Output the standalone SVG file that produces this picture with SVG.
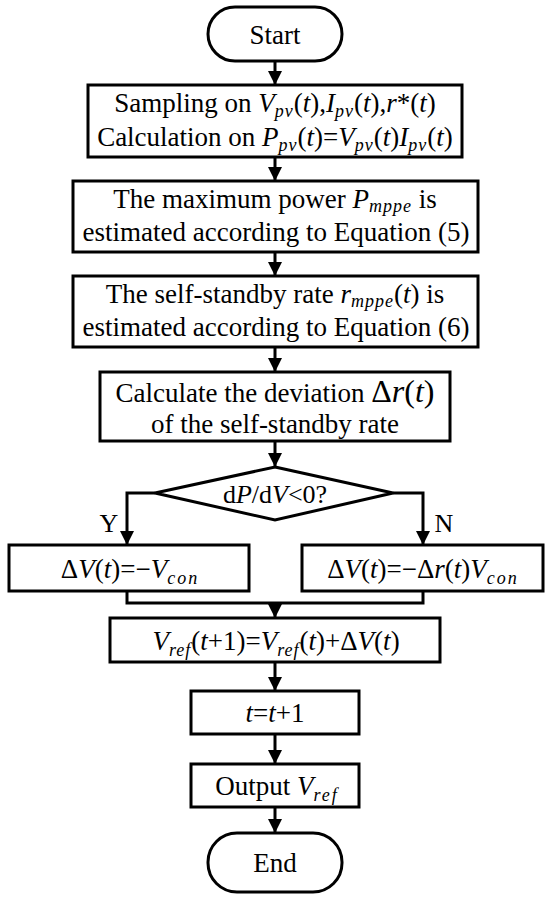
<svg xmlns="http://www.w3.org/2000/svg" width="550" height="899" viewBox="0 0 550 899" font-family="'Liberation Serif', 'Times New Roman', serif">
<style>
.n{fill:#fff;stroke:#000;stroke-width:3}
.c{fill:none;stroke:#000;stroke-width:3}
.tx{font-family:'Liberation Serif','Times New Roman',serif;font-size:27px;fill:#000;text-anchor:middle}
.i{font-style:italic}
.s{font-style:italic;font-size:18px;letter-spacing:1px}
.big{font-size:32px}
</style>
<defs>
<marker id="ah" markerUnits="userSpaceOnUse" markerWidth="16" markerHeight="14" refX="14" refY="7" orient="auto">
<path d="M0,0 L14,7 L0,14 Z" fill="#000"/>
</marker>
</defs>
<rect width="550" height="899" fill="#fff"/>
<g id="connectors">
<line class="c" x1="275" y1="61" x2="275" y2="85" marker-end="url(#ah)"/>
<line class="c" x1="275" y1="157" x2="275" y2="181" marker-end="url(#ah)"/>
<line class="c" x1="275" y1="252" x2="275" y2="276" marker-end="url(#ah)"/>
<line class="c" x1="275" y1="347" x2="275" y2="372" marker-end="url(#ah)"/>
<line class="c" x1="275" y1="441" x2="275" y2="467" marker-end="url(#ah)"/>
<polyline class="c" points="155,493 127,493 127,545" marker-end="url(#ah)"/>
<polyline class="c" points="393,493 423,493 423,545" marker-end="url(#ah)"/>
<polyline class="c" points="127,591 127,603 423,603 423,591"/>
<line class="c" x1="275" y1="603" x2="275" y2="618" marker-end="url(#ah)"/>
<line class="c" x1="275" y1="662" x2="275" y2="691" marker-end="url(#ah)"/>
<line class="c" x1="275" y1="734" x2="275" y2="764" marker-end="url(#ah)"/>
<line class="c" x1="275" y1="807" x2="275" y2="833" marker-end="url(#ah)"/>
<text class="tx" x="109" y="532" style="font-size:26px">Y</text>
<text class="tx" x="444" y="532" style="font-size:26px">N</text>
</g>
<g id="start">
<rect class="n" x="208" y="7" width="134" height="54" rx="27"/>
<text class="tx" x="275" y="44">Start</text>
</g>
<g id="sampling">
<rect class="n" x="88" y="85" width="374" height="72"/>
<text class="tx" x="275" y="112">Sampling on <tspan class="i">V</tspan><tspan class="s" dy="5">pv</tspan><tspan dy="-5">(</tspan><tspan class="i">t</tspan>),<tspan class="i">I</tspan><tspan class="s" dy="5">pv</tspan><tspan dy="-5">(</tspan><tspan class="i">t</tspan>),<tspan class="i">r</tspan>*(<tspan class="i">t</tspan>)</text>
<text class="tx" x="275" y="146">Calculation on <tspan class="i">P</tspan><tspan class="s" dy="5">pv</tspan><tspan dy="-5">(</tspan><tspan class="i">t</tspan>)=<tspan class="i">V</tspan><tspan class="s" dy="5">pv</tspan><tspan dy="-5">(</tspan><tspan class="i">t</tspan>)<tspan class="i">I</tspan><tspan class="s" dy="5">pv</tspan><tspan dy="-5">(</tspan><tspan class="i">t</tspan>)</text>
</g>
<g id="maxpower">
<rect class="n" x="73" y="181" width="405" height="71"/>
<text class="tx" x="275" y="208">The maximum power <tspan class="i">P</tspan><tspan class="s" dy="4">mppe</tspan><tspan dy="-4"> is</tspan></text>
<text class="tx" x="276" y="241">estimated according to Equation (5)</text>
</g>
<g id="selfstandby">
<rect class="n" x="73" y="276" width="405" height="71"/>
<text class="tx" x="275" y="303">The self-standby rate <tspan class="i">r</tspan><tspan class="s" dy="4">mppe</tspan><tspan dy="-4">(</tspan><tspan class="i">t</tspan>) is</text>
<text class="tx" x="276" y="336">estimated according to Equation (6)</text>
</g>
<g id="deviation">
<rect class="n" x="100" y="372" width="350" height="69"/>
<text class="tx" x="275" y="402">Calculate the deviation <tspan class="big">Δ</tspan><tspan class="big i">r</tspan><tspan class="big">(</tspan><tspan class="big i">t</tspan><tspan class="big">)</tspan></text>
<text class="tx" x="275" y="433">of the self-standby rate</text>
</g>
<g id="decision">
<polygon class="n" points="275,467 393,493 275,520 155,493"/>
<text class="tx" x="275" y="503" style="font-size:26px">d<tspan class="i">P</tspan>/d<tspan class="i">V</tspan>&lt;0?</text>
</g>
<g id="yes">
<rect class="n" x="9" y="545" width="240" height="46"/>
<text class="tx" x="130" y="578">Δ<tspan class="i">V</tspan>(<tspan class="i">t</tspan>)=−<tspan class="i">V</tspan><tspan class="s" dy="6" style="letter-spacing:2px">con</tspan></text>
</g>
<g id="no">
<rect class="n" x="302" y="545" width="241" height="46"/>
<text class="tx" x="423" y="578">Δ<tspan class="i">V</tspan>(<tspan class="i">t</tspan>)=−Δ<tspan class="i">r</tspan>(<tspan class="i">t</tspan>)<tspan class="i">V</tspan><tspan class="s" dy="6" style="letter-spacing:2px">con</tspan></text>
</g>
<g id="update">
<rect class="n" x="110" y="618" width="330" height="44"/>
<text class="tx" x="276" y="650"><tspan class="i">V</tspan><tspan class="s" dy="6">ref</tspan><tspan dy="-6">(</tspan><tspan class="i">t</tspan>+1)=<tspan class="i">V</tspan><tspan class="s" dy="6">ref</tspan><tspan dy="-6">(</tspan><tspan class="i">t</tspan>)+Δ<tspan class="i">V</tspan>(<tspan class="i">t</tspan>)</text>
</g>
<g id="increment">
<rect class="n" x="191" y="691" width="168" height="43"/>
<text class="tx" x="275" y="722"><tspan class="i">t</tspan>=<tspan class="i">t</tspan>+1</text>
</g>
<g id="output">
<rect class="n" x="191" y="764" width="168" height="43"/>
<text class="tx" x="277" y="795">Output <tspan class="i">V</tspan><tspan class="s" dy="6" style="letter-spacing:2px">ref</tspan></text>
</g>
<g id="end">
<rect class="n" x="208" y="833" width="134" height="59" rx="29"/>
<text class="tx" x="275" y="872">End</text>
</g>
</svg>
